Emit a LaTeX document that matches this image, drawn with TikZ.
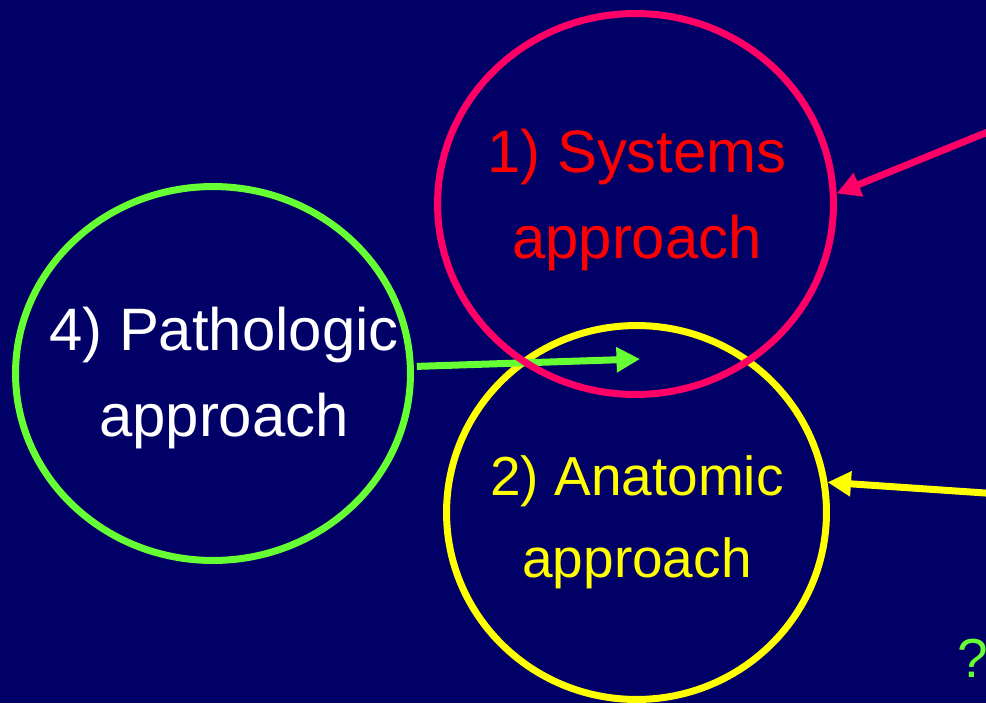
\documentclass[tikz,border=0pt]{standalone}
\usepackage{fontspec}
\setmainfont{Liberation Sans}
\usepackage{tikz}
\usetikzlibrary{arrows.meta,positioning,shapes.geometric}

\definecolor{slidebg}{HTML}{000066}
\definecolor{sysring}{HTML}{FF0066}
\definecolor{systext}{HTML}{FF0000}
\definecolor{anaring}{HTML}{FFFF00}
\definecolor{pathring}{HTML}{66FF33}

\begin{document}
\begin{tikzpicture}[
  x=0.02cm, y=-0.02cm,
  ring/.style={ellipse, draw, line width=0.14cm, inner sep=0pt},
  label60/.style={inner sep=0pt, align=center, font=\fontsize{34.1}{48.9}\selectfont},
  label55/.style={inner sep=0pt, align=center, font=\fontsize{31.3}{46.7}\selectfont},
  link/.style={line width=0.14cm, -{Triangle[length=0.47cm, width=0.48cm]}}
]
\fill[slidebg] (0,0) rectangle (986,703);
\useasboundingbox (0,0) rectangle (986,703);

\node[ring, draw=pathring, minimum width=7.9cm, minimum height=7.48cm] (path) at (213,373.5) {};
\node[ring, draw=anaring, minimum width=7.6cm, minimum height=7.48cm] (ana) at (636.5,512.5) {};
\coordinate (aim) at (640,359);
\draw[link, pathring, shorten <=0.06cm] (path.2) -- (aim);
\node[ring, draw=sysring, minimum width=7.92cm, minimum height=7.62cm] (sys) at (635.5,204) {};

\coordinate (sysfrom) at (1000,127);
\coordinate (anafrom) at (1000,494);
\draw[link, sysring] (sysfrom) -- (sys.3);
\draw[link, anaring] (anafrom) -- (ana.9);

\node[label60, text=systext] (systxt) at (637,200) {1) Systems\\approach};
\node[label55, text=anaring] (anatxt) at (637,522) {2) Anatomic\\approach};
\node[label60, text=white] (pathtxt) at (224,378) {4) Pathologic\\approach};
\node[label55, text=pathring, anchor=base west] (query) at (957,677) {?};
\end{tikzpicture}
\end{document}
